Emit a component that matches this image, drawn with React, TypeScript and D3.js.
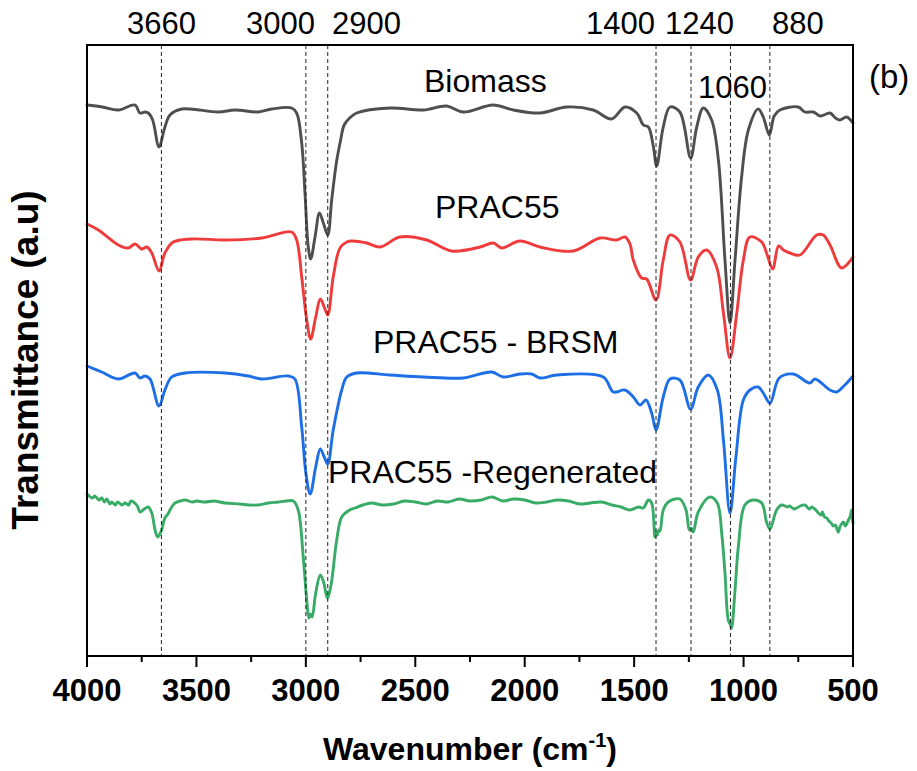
import React from "react";
import * as d3 from "d3";

// Wavenumber (cm-1) vs transmittance (arbitrary units, offset curves)
const biomass: [number, number][] = [
  [4000, 551], [3930, 549], [3857, 546], [3781, 551], [3758, 543], [3735, 544], [3720, 543],
  [3700, 536], [3671, 509], [3644, 529], [3621, 541], [3567, 547], [3400, 544], [3324, 546],
  [3217, 544], [3156, 547], [3065, 548], [3042, 543], [3019, 513], [3004, 463], [2989, 409],
  [2978, 397], [2958, 419], [2938, 443], [2920, 433], [2900, 421], [2882, 456], [2860, 494],
  [2842, 515], [2825, 531], [2800, 538], [2768, 543], [2616, 548], [2463, 546], [2357, 550],
  [2281, 544], [2144, 551], [2052, 546], [1930, 543], [1808, 549], [1687, 546], [1603, 537],
  [1542, 549], [1488, 543], [1458, 531], [1435, 529], [1412, 509], [1397, 490], [1367, 529],
  [1336, 549], [1291, 544], [1242, 498], [1214, 529], [1184, 548], [1146, 536], [1115, 496],
  [1085, 396], [1062, 333], [1039, 396], [1009, 479], [978, 526], [933, 547], [910, 539],
  [882, 521], [860, 540], [834, 546], [750, 549], [720, 544], [681, 544], [650, 540], [605, 543],
  [580, 538], [560, 536], [529, 539], [500, 533],
];

const prac55: [number, number][] = [
  [4000, 432], [3948, 426], [3857, 411], [3811, 408], [3781, 412], [3750, 407], [3727, 409],
  [3704, 403], [3671, 385], [3644, 403], [3606, 414], [3522, 417], [3370, 416], [3202, 418],
  [3065, 424], [3042, 416], [3019, 379], [2996, 336], [2978, 317], [2955, 339], [2934, 357],
  [2916, 349], [2900, 341], [2875, 379], [2844, 408], [2813, 414], [2791, 415], [2722, 413],
  [2661, 409], [2570, 419], [2448, 416], [2334, 405], [2204, 409], [2144, 413], [2105, 408],
  [2022, 415], [1930, 409], [1778, 405], [1656, 418], [1580, 416], [1542, 419], [1519, 412],
  [1504, 396], [1466, 378], [1443, 377], [1400, 356], [1367, 396], [1336, 421], [1291, 414],
  [1242, 376], [1207, 399], [1169, 406], [1123, 389], [1092, 343], [1062, 298], [1031, 343],
  [1001, 396], [971, 419], [917, 414], [895, 403], [867, 387], [840, 410], [818, 406], [788, 403],
  [742, 401], [666, 421], [636, 421], [605, 411], [552, 388], [500, 399],
];

const brsm: [number, number][] = [
  [4000, 290], [3933, 284], [3857, 277], [3781, 283], [3758, 278], [3735, 280], [3712, 277],
  [3671, 250], [3644, 266], [3613, 279], [3552, 283], [3370, 283], [3263, 280], [3202, 277],
  [3080, 280], [3050, 277], [3019, 229], [3000, 183], [2980, 162], [2955, 189], [2934, 207],
  [2916, 199], [2900, 192], [2875, 226], [2836, 266], [2813, 279], [2768, 283], [2616, 281],
  [2463, 279], [2281, 278], [2151, 284], [2098, 279], [2022, 282], [1968, 282], [1930, 278],
  [1854, 281], [1641, 279], [1595, 264], [1542, 266], [1504, 259], [1473, 251], [1446, 256],
  [1420, 243], [1400, 226], [1367, 259], [1336, 277], [1291, 276], [1242, 247], [1207, 269],
  [1161, 281], [1120, 266], [1092, 216], [1062, 143], [1035, 199], [1001, 256], [971, 266],
  [933, 269], [910, 263], [879, 253], [837, 278], [773, 282], [697, 273], [674, 277], [605, 266],
  [575, 264], [537, 271], [500, 280],
];

const regenerated: [number, number][] = [
  [4000, 162], [3975, 158], [3965, 160], [3945, 156], [3933, 158], [3920, 154], [3910, 157],
  [3895, 152], [3887, 154], [3870, 151], [3860, 154], [3840, 151], [3826, 153], [3810, 151],
  [3800, 155], [3788, 154], [3770, 150], [3758, 144], [3738, 147], [3720, 149], [3704, 143],
  [3689, 126], [3677, 119], [3665, 123], [3659, 126], [3644, 138], [3630, 142], [3621, 146],
  [3610, 150], [3598, 153], [3575, 155], [3552, 156], [3520, 154], [3500, 155], [3461, 154],
  [3420, 155], [3370, 153], [3300, 152], [3260, 151], [3217, 151], [3170, 153], [3126, 154],
  [3090, 155], [3057, 155], [3035, 146], [3012, 99], [2996, 56], [2986, 38], [2978, 42],
  [2971, 39], [2955, 63], [2934, 81], [2919, 74], [2902, 58], [2885, 71], [2859, 116],
  [2836, 139], [2800, 146], [2775, 148], [2740, 151], [2700, 153], [2650, 151], [2600, 152],
  [2550, 155], [2500, 154], [2450, 152], [2400, 155], [2350, 154], [2300, 157], [2250, 155],
  [2200, 156], [2150, 159], [2100, 155], [2050, 157], [2000, 156], [1950, 153], [1900, 154],
  [1850, 156], [1800, 155], [1750, 152], [1700, 153], [1650, 154], [1600, 151], [1560, 149],
  [1519, 146], [1480, 149], [1458, 148], [1435, 156], [1420, 153], [1405, 119], [1400, 124],
  [1394, 121], [1388, 126], [1382, 125], [1367, 146], [1344, 154], [1291, 157], [1263, 146],
  [1248, 126], [1240, 128], [1230, 124], [1207, 144], [1154, 159], [1120, 153], [1100, 123],
  [1085, 83], [1070, 36], [1060, 31], [1055, 28], [1039, 66], [1024, 109], [994, 151],
  [956, 156], [917, 153], [895, 134], [880, 127], [872, 130], [849, 146], [826, 151], [800, 149],
  [790, 150], [770, 147], [757, 148], [740, 150], [720, 151], [700, 147], [689, 149], [670, 146],
  [658, 143], [645, 141], [640, 144], [630, 139], [620, 138], [610, 135], [600, 133], [590, 130],
  [580, 131], [572, 126], [567, 124], [560, 129], [555, 131], [544, 134], [535, 130], [521, 136],
  [512, 140], [506, 146], [503, 138], [500, 133],
];

const seriesNames = ["Biomass", "PRAC55", "PRAC55 - BRSM", "PRAC55 -Regenerated"];
const seriesColors = ["#4f4f4f", "#ef3b3c", "#1e6fe6", "#38ab67"];
const seriesData = [biomass, prac55, brsm, regenerated];

const peakLines = [3660, 3000, 2900, 1400, 1240, 1060, 880];
const peakLabels = ["3660", "3000", "2900", "1400", "1240", "1060", "880"];

const xTicks = [4000, 3500, 3000, 2500, 2000, 1500, 1000, 500];
const xMinorTicks = [3750, 3250, 2750, 2250, 1750, 1250, 750];

const W = 917;
const H = 771;
const L = 87, R = 853, T = 45, B = 656;
const FONT = "'Liberation Sans', Arial, Helvetica, sans-serif";

export default function App() {
  const x = d3.scaleLinear().domain([4000, 500]).range([L, R]);
  const y = d3.scaleLinear().domain([0, 611]).range([B, T]);
  const line = d3
    .line<[number, number]>()
    .x((d) => x(d[0]))
    .y((d) => y(d[1]))
    .curve(d3.curveCatmullRom.alpha(0.5));

  // label placements (layout, not data)
  const seriesLabelPos = [
    { x: 424, y: 92 },
    { x: 435, y: 218 },
    { x: 373, y: 353 },
    { x: 328, y: 483 },
  ];
  const peakLabelPos: Record<string, { x: number; y: number }> = {
    "3660": { x: 127, y: 34 },
    "3000": { x: 246, y: 34 },
    "2900": { x: 332, y: 34 },
    "1400": { x: 586, y: 34 },
    "1240": { x: 665, y: 34 },
    "1060": { x: 698, y: 98 },
    "880": { x: 772, y: 34 },
  };

  return (
    <svg
      width={W}
      height={H}
      style={{ position: "absolute", left: 0, top: 0, background: "#fff" }}
      fontFamily={FONT}
    >
      <rect x={0} y={0} width={W} height={H} fill="#fff" />
      {seriesData.map((d, i) => (
        <path
          key={seriesNames[i]}
          d={line(d) || ""}
          fill="none"
          stroke={seriesColors[i]}
          strokeWidth={2.9}
          strokeLinejoin="round"
          strokeLinecap="round"
        />
      ))}
      {peakLines.map((p) => (
        <line
          key={p}
          x1={x(p)}
          x2={x(p)}
          y1={T}
          y2={B}
          stroke="#222"
          strokeWidth={1}
          strokeDasharray="4 3"
        />
      ))}
      {/* frame */}
      <rect x={L} y={T} width={R - L} height={B - T} fill="none" stroke="#000" strokeWidth={2} />
      {/* ticks */}
      {xTicks.map((t) => (
        <g key={t}>
          <line x1={x(t)} x2={x(t)} y1={B} y2={B + 11} stroke="#000" strokeWidth={2} />
          <text x={x(t)} y={701} textAnchor="middle" fontSize={31} fontWeight="bold" fill="#000">
            {t}
          </text>
        </g>
      ))}
      {xMinorTicks.map((t) => (
        <line key={t} x1={x(t)} x2={x(t)} y1={B} y2={B + 6} stroke="#000" strokeWidth={2} />
      ))}
      {/* axis titles */}
      <text x={470} y={760} textAnchor="middle" fontSize={32} fontWeight="bold" fill="#000">
        Wavenumber (cm
        <tspan fontSize={20} dy={-13}>-1</tspan>
        <tspan dy={13}>)</tspan>
      </text>
      <text
        transform="translate(38,360) rotate(-90)"
        textAnchor="middle"
        fontSize={37}
        fontWeight="bold"
        fill="#000"
      >
        Transmittance (a.u)
      </text>
      {/* peak labels */}
      {peakLabels.map((lab) => {
        const p = peakLabelPos[lab];
        return (
          <text key={lab} x={p.x} y={p.y} fontSize={31} fill="#000">
            {lab}
          </text>
        );
      })}
      {/* series labels */}
      {seriesNames.map((n, i) => (
        <text key={n} x={seriesLabelPos[i].x} y={seriesLabelPos[i].y} fontSize={32} fill="#000">
          {n}
        </text>
      ))}
      <text x={869} y={88} fontSize={33} fill="#000">
        (b)
      </text>
    </svg>
  );
}
